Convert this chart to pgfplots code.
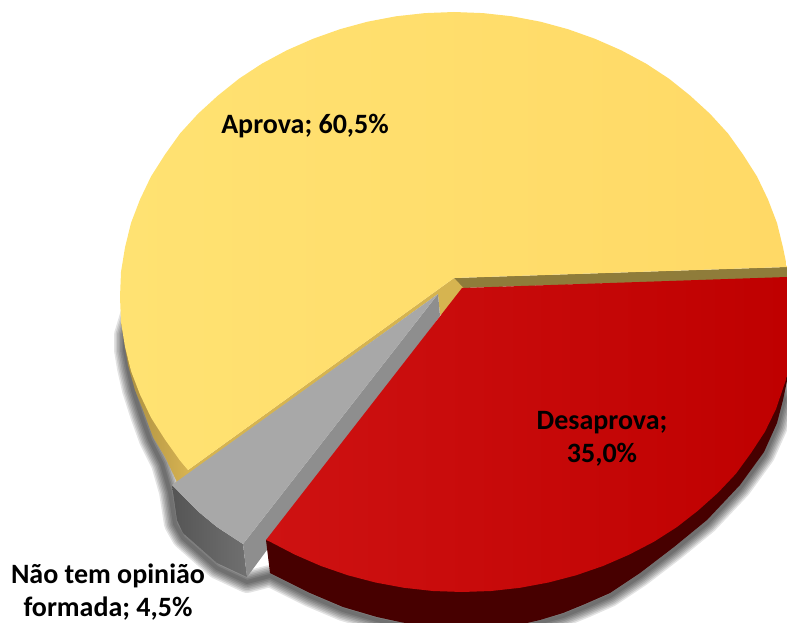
\documentclass[border=0pt]{standalone}
\usepackage{pgfplots}
\pgfplotsset{compat=1.18}
\usepackage{fontspec}
\setmainfont{Carlito}
\definecolor{yelFaceL}{HTML}{FFE272}
\definecolor{yelFaceR}{HTML}{FFD966}
\definecolor{yelInner}{HTML}{D6B450}
\definecolor{yelBack}{HTML}{8F7C3A}
\definecolor{yelWallL}{HTML}{A88C40}
\definecolor{yelWallR}{HTML}{D8B452}
\definecolor{redFaceL}{HTML}{CE1212}
\definecolor{redFaceR}{HTML}{BF0000}
\definecolor{redWall}{HTML}{470000}
\definecolor{greyFace}{HTML}{A8A8A8}
\definecolor{greySide}{HTML}{8E8E8E}
\definecolor{greyWallL}{HTML}{555555}
\definecolor{greyWallR}{HTML}{707070}
\pgfplotsset{
  soft shadow/.style={draw=black, line width=#1, opacity=0.11, line join=round, line cap=round, fill=none, mark=none, forget plot},
}
% outer rim of the pie, used for the soft shadow under the walls
\pgfplotstableread{
x y
140 285
125 335
125 350
128 368
133 390
141 415
150 440
162 464
170 492
175 524
183 538
217 568
247 582
270 576
310 596
343 610
377 620
400 625
427 630
470 634
527 626
563 616
585 607
610 596
640 576
674 550
707 523
740 488
764 455
777 426
784 400
775 365
}\rimtable
\begin{document}
\begin{tikzpicture}
\begin{axis}[
  scale only axis, width=787bp, height=623bp,
  xmin=0, xmax=787, ymin=0, ymax=623, y dir=reverse,
  axis lines=none, ticks=none,
]
% soft shadow, built up from nested translucent strokes
\addplot[soft shadow=22bp] table {\rimtable};
\addplot[soft shadow=19bp] table {\rimtable};
\addplot[soft shadow=16bp] table {\rimtable};
\addplot[soft shadow=13bp] table {\rimtable};
\addplot[soft shadow=10bp] table {\rimtable};
\addplot[soft shadow=7bp] table {\rimtable};
\addplot[soft shadow=4bp] table {\rimtable};
% Aprova: walls
\addplot[fill=yelBack, draw=none, mark=none] coordinates {
  (454,278) (787,267) (787,278) (462,288) } -- cycle;
\addplot[fill=yelInner, draw=none, mark=none] coordinates {
  (454,278) (188,470) (172,486) (438,294) (440,315) (475,300) } -- cycle;
\addplot[left color=yelWallL, right color=yelWallR, draw=none, mark=none] coordinates {
  (121,322) (125,347) (128,365) (135,390) (143,410) (153,437) (165,457) (177,482) (190,472) (180,460) (151,417) (131,371) } -- cycle;
% Aprova: top face
\addplot[left color=yelFaceL, right color=yelFaceR, draw=none, mark=none] coordinates {
  (454,278) (188,470) (180,460.5) (165,439.5) (151,417.5) (140,394.5) (131,371) (125,346.5)
  (121,322) (120,297) (121,272) (125,247.5) (131,223) (140,199.5) (151,176.5) (165,154.5)
  (180,133.5) (198,113.8) (218,95.5) (239,78.7) (262,63.6) (287,50.2) (313,38.8) (340,29.2)
  (367.5,21.7) (396,16.3) (425,13.1) (454,12) (483,13.1) (512,16.3) (540.5,21.7) (568,29.2)
  (595,38.8) (621,50.2) (646,63.6) (669,78.7) (690,95.5) (710,113.8) (728,133.5) (743,154.5)
  (757,176.5) (768,199.5) (777,223) (783,247.5) (787,267) } -- cycle;
% Não tem opinião formada: walls and top face
\addplot[left color=greyWallL, right color=greyWallR, draw=none, mark=none] coordinates {
  (172,485) (200,513) (217,527) (243,544) (247,577) (217,563) (183,533) (177,520) } -- cycle;
\addplot[fill=greySide, draw=none, mark=none] coordinates {
  (438,294) (243,544) (247,577) (440,316) } -- cycle;
\addplot[fill=greyFace, draw=none, mark=none] coordinates {
  (438,294) (172,485) (200,513) (217,527) (243,544) } -- cycle;
% Desaprova: wall and top face
\addplot[fill=redWall, draw=none, mark=none] coordinates {
  (266,540) (270,573) (310,593) (343,607) (377,617) (400,622) (427,627) (470,631) (527,623)
  (540,620) (563,613) (585,604) (610,593) (640,573) (674,547) (707,520) (740,485) (764,452)
  (777,423) (783,400) (788,376) (700,420) } -- cycle;
\addplot[left color=redFaceL, right color=redFaceR, draw=none, mark=none] coordinates {
  (462,288) (266,540) (270,541.7) (295,554.7) (321,566) (348,575.3) (375.5,582.5) (404,587.8)
  (433,591) (462,592) (491,591) (520,587.8) (548.5,582.5) (576,575.3) (603,566) (629,554.7)
  (654,541.7) (677,527) (698,510.6) (718,492.7) (736,473.6) (751,453) (765,431.6) (776,409)
  (787,376.6) (787,277) } -- cycle;
% data labels
\node[font=\fontsize{28bp}{33bp}\selectfont\bfseries, align=center, text=black] at (axis cs:305,126) {Aprova; 60,5\%};
\node[font=\fontsize{28bp}{33bp}\selectfont\bfseries, align=center, text=black] at (axis cs:602,439) {Desaprova;\\35,0\%};
\node[font=\fontsize{28bp}{33bp}\selectfont\bfseries, align=center, text=black] at (axis cs:108,592) {Não tem opinião\\formada; 4,5\%};
\end{axis}
\pgfresetboundingbox
\path[use as bounding box] (0,0) rectangle (787bp,623bp);
\end{tikzpicture}
\end{document}
